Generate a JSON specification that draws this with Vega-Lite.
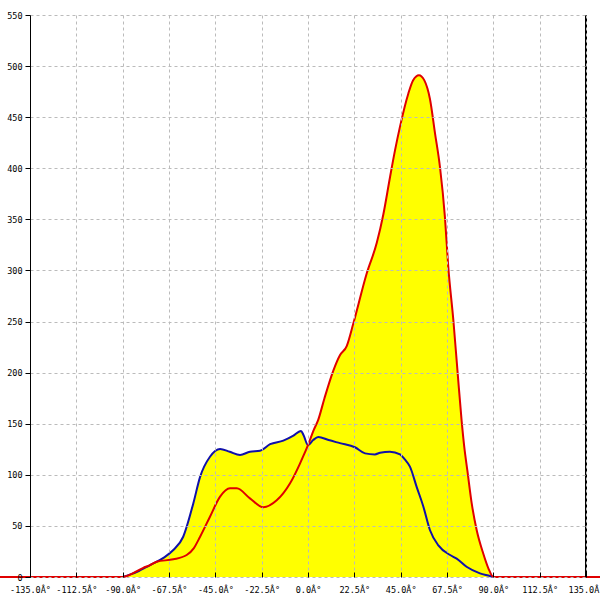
{
  "$schema": "https://vega.github.io/schema/vega-lite/v6.json",
  "width": 556,
  "height": 562,
  "autosize": "none",
  "padding": {"left": 30, "top": 15, "right": 14, "bottom": 23},
  "background": "white",
  "config": {
    "view": {"stroke": null},
    "axis": {"labelFont": "DejaVu Sans Mono", "labelFontSize": 8.5, "labelColor": "black", "gridColor": "#bbbbbb", "gridDash": [3, 3], "gridWidth": 1, "domainColor": "black", "tickColor": "black"}
  },
  "data": {
    "values": [
      {"s": "blue", "deg": -90, "v": 0},
      {"s": "blue", "deg": -83, "v": 5},
      {"s": "blue", "deg": -76.7, "v": 11.7},
      {"s": "blue", "deg": -70, "v": 19},
      {"s": "blue", "deg": -65.4, "v": 26.4},
      {"s": "blue", "deg": -60.6, "v": 39.4},
      {"s": "blue", "deg": -55.7, "v": 72},
      {"s": "blue", "deg": -52.4, "v": 98},
      {"s": "blue", "deg": -47.6, "v": 117.7},
      {"s": "blue", "deg": -42.7, "v": 125.3},
      {"s": "blue", "deg": -38, "v": 122.5},
      {"s": "blue", "deg": -33, "v": 119.4},
      {"s": "blue", "deg": -28.2, "v": 122.6},
      {"s": "blue", "deg": -23.3, "v": 123.6},
      {"s": "blue", "deg": -18.4, "v": 130},
      {"s": "blue", "deg": -12, "v": 133.4},
      {"s": "blue", "deg": -7.3, "v": 138},
      {"s": "blue", "deg": -3.4, "v": 143},
      {"s": "blue", "deg": -2.2, "v": 139},
      {"s": "blue", "deg": 0, "v": 129},
      {"s": "blue", "deg": 2.5, "v": 134},
      {"s": "blue", "deg": 5, "v": 137},
      {"s": "blue", "deg": 10, "v": 134},
      {"s": "blue", "deg": 15.5, "v": 131},
      {"s": "blue", "deg": 22.8, "v": 127},
      {"s": "blue", "deg": 27.7, "v": 121},
      {"s": "blue", "deg": 32.5, "v": 120},
      {"s": "blue", "deg": 35, "v": 121.6},
      {"s": "blue", "deg": 39.8, "v": 122.6},
      {"s": "blue", "deg": 44.7, "v": 120},
      {"s": "blue", "deg": 47, "v": 115},
      {"s": "blue", "deg": 49.5, "v": 108},
      {"s": "blue", "deg": 52.8, "v": 88},
      {"s": "blue", "deg": 56, "v": 69},
      {"s": "blue", "deg": 59.2, "v": 46},
      {"s": "blue", "deg": 63.3, "v": 31},
      {"s": "blue", "deg": 69, "v": 21.5},
      {"s": "blue", "deg": 72.2, "v": 18},
      {"s": "blue", "deg": 77, "v": 10},
      {"s": "blue", "deg": 83.5, "v": 3.6},
      {"s": "blue", "deg": 88.4, "v": 1},
      {"s": "blue", "deg": 90, "v": 0},
      {"s": "red", "deg": -150, "v": 0},
      {"s": "red", "deg": -90, "v": 0},
      {"s": "red", "deg": -80, "v": 9},
      {"s": "red", "deg": -76.7, "v": 11.7},
      {"s": "red", "deg": -73.5, "v": 15},
      {"s": "red", "deg": -65.4, "v": 17.3},
      {"s": "red", "deg": -58.9, "v": 21.5},
      {"s": "red", "deg": -55.5, "v": 28},
      {"s": "red", "deg": -52.4, "v": 39.4},
      {"s": "red", "deg": -47.6, "v": 59},
      {"s": "red", "deg": -42.7, "v": 78.6},
      {"s": "red", "deg": -37.9, "v": 86.8},
      {"s": "red", "deg": -34.6, "v": 86.8},
      {"s": "red", "deg": -28.2, "v": 77},
      {"s": "red", "deg": -21.7, "v": 68.2},
      {"s": "red", "deg": -15.2, "v": 75},
      {"s": "red", "deg": -8.7, "v": 91.7},
      {"s": "red", "deg": -3.9, "v": 111},
      {"s": "red", "deg": -1.5, "v": 122},
      {"s": "red", "deg": 0, "v": 129},
      {"s": "red", "deg": 2.6, "v": 143},
      {"s": "red", "deg": 5, "v": 154},
      {"s": "red", "deg": 8, "v": 175},
      {"s": "red", "deg": 12.3, "v": 202},
      {"s": "red", "deg": 15.5, "v": 217},
      {"s": "red", "deg": 18.8, "v": 226},
      {"s": "red", "deg": 22, "v": 248},
      {"s": "red", "deg": 28.5, "v": 297},
      {"s": "red", "deg": 33.4, "v": 327},
      {"s": "red", "deg": 36.6, "v": 355},
      {"s": "red", "deg": 39.8, "v": 391},
      {"s": "red", "deg": 42.2, "v": 417},
      {"s": "red", "deg": 44.7, "v": 441},
      {"s": "red", "deg": 48.7, "v": 473},
      {"s": "red", "deg": 51, "v": 486},
      {"s": "red", "deg": 53.9, "v": 491},
      {"s": "red", "deg": 56.5, "v": 486},
      {"s": "red", "deg": 59.2, "v": 468},
      {"s": "red", "deg": 61.7, "v": 434},
      {"s": "red", "deg": 64.1, "v": 401},
      {"s": "red", "deg": 66.5, "v": 352},
      {"s": "red", "deg": 68.1, "v": 304},
      {"s": "red", "deg": 70.6, "v": 251},
      {"s": "red", "deg": 72.7, "v": 199},
      {"s": "red", "deg": 74.6, "v": 153},
      {"s": "red", "deg": 75.9, "v": 127},
      {"s": "red", "deg": 77.4, "v": 104},
      {"s": "red", "deg": 79.5, "v": 72},
      {"s": "red", "deg": 81.9, "v": 46},
      {"s": "red", "deg": 85.1, "v": 23},
      {"s": "red", "deg": 87.6, "v": 8.5},
      {"s": "red", "deg": 90, "v": 0},
      {"s": "red", "deg": 145, "v": 0}
    ]
  },
  "encoding": {
    "x": {
      "field": "deg", "type": "quantitative",
      "scale": {"domain": [-135, 135], "nice": false, "zero": false},
      "axis": {
        "title": null, "values": [-135, -112.5, -90, -67.5, -45, -22.5, 0, 22.5, 45, 67.5, 90, 112.5, 135],
        "labelExpr": "(datum.value < 0 ? '-' : '') + format(abs(datum.value), '.1f') + 'Â°'",
        "domain": false, "tickSize": -5, "labelPadding": 13, "grid": true, "zindex": 1, "labelFlush": false, "labelOverlap": false
      }
    },
    "y": {
      "field": "v", "type": "quantitative", "stack": null,
      "scale": {"domain": [0, 550], "nice": false},
      "axis": {
        "title": null, "values": [0, 50, 100, 150, 200, 250, 300, 350, 400, 450, 500, 550],
        "tickSize": 5, "labelPadding": 3, "grid": true, "zindex": 1, "labelFlush": false, "labelOverlap": false
      }
    }
  },
  "layer": [
    {
      "mark": {"type": "area", "color": "#ffff00", "interpolate": "monotone", "clip": false, "opacity": 1},
      "encoding": {"detail": {"field": "s"}}
    },
    {
      "transform": [{"filter": "datum.s === 'blue'"}],
      "mark": {"type": "line", "color": "#1010aa", "strokeWidth": 2, "interpolate": "monotone", "clip": false}
    },
    {
      "transform": [{"filter": "datum.s === 'red'"}],
      "mark": {"type": "line", "color": "#e00000", "strokeWidth": 2, "interpolate": "monotone", "clip": false}
    },
    {
      "mark": {"type": "rule", "color": "black", "strokeWidth": 1.6},
      "encoding": {"x": {"datum": 135}, "y": null}
    }
  ]
}
